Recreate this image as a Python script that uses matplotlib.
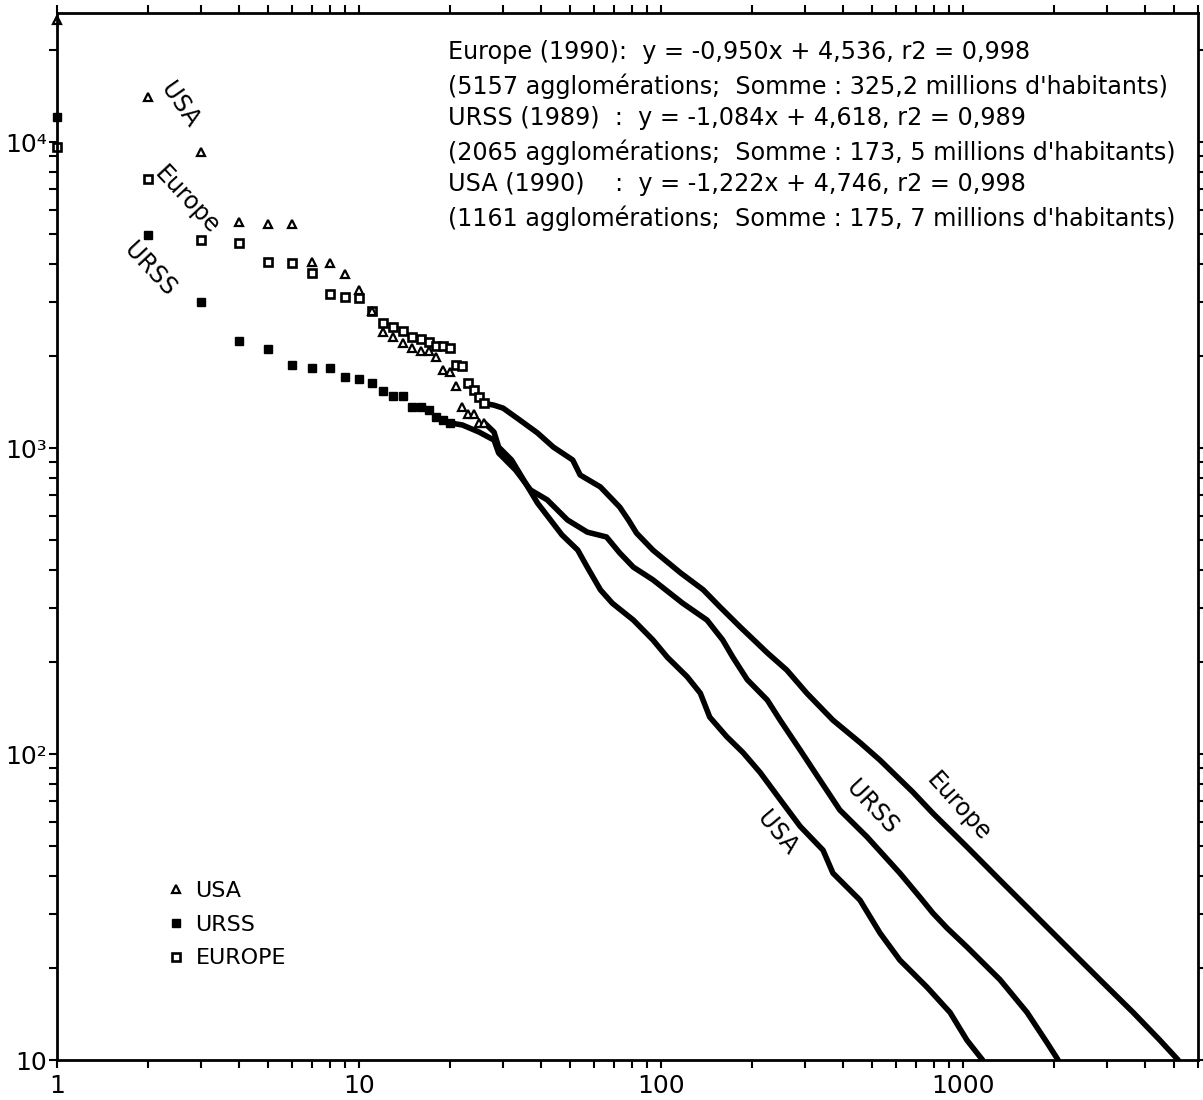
import numpy as np
import matplotlib
matplotlib.use("Agg")
import matplotlib.pyplot as plt
from matplotlib.lines import Line2D
from matplotlib.ticker import FixedLocator, LogLocator, NullFormatter

# rank-size data (population in thousands)
usa_rank_head = list(range(1, 27))
usa_pop_head = [25000, 14000, 9270, 5480, 5410, 5410, 4050, 4020, 3700, 3280,
                2800, 2390, 2300, 2200, 2120, 2070, 2070, 1980, 1800, 1770,
                1600, 1360, 1290, 1290, 1210, 1210]
usa_rank_tail = [26, 28, 29, 32, 34, 39, 47, 53, 57, 63, 69, 81, 94, 105, 122,
                 135, 145, 165, 187, 213, 248, 289, 344, 371, 456, 531, 618,
                 760, 906, 1031, 1161]
usa_pop_tail = [1210, 1127, 1007, 914, 828, 661, 520, 464, 408, 344, 311, 274,
                236, 207, 179, 158, 132, 114, 101, 87, 71, 58, 48.5, 40.8, 33.3,
                26, 21.2, 17.3, 14.3, 11.6, 10]

urss_rank_head = list(range(1, 21))
urss_pop_head = [12080, 4960, 3000, 2240, 2110, 1870, 1825, 1825, 1706, 1680,
                 1630, 1535, 1478, 1478, 1360, 1360, 1331, 1262, 1235, 1208]
urss_rank_tail = [20, 22, 25, 28, 29, 33, 37, 42, 49, 57, 66, 73, 81, 94, 118,
                  142, 160, 173, 193, 225, 248, 289, 336, 391, 481, 618, 721,
                  795, 885, 1031, 1326, 1630, 1897, 2065]
urss_pop_tail = [1208, 1189, 1127, 1061, 963, 847, 729, 677, 582, 531, 512, 454,
                 408, 371, 311, 274, 236, 207, 175, 150, 129, 103, 82.2, 65.6,
                 53.6, 40.8, 34.0, 30.2, 27.0, 23.4, 18.3, 14.3, 11.4, 10]

europe_rank_head = list(range(1, 27))
europe_pop_head = [9630, 7570, 4790, 4680, 4050, 4020, 3730, 3185, 3110, 3090,
                   2800, 2560, 2480, 2410, 2300, 2270, 2220, 2150, 2150, 2120,
                   1870, 1860, 1630, 1550, 1470, 1400]
europe_rank_tail = [26, 28, 30, 34, 39, 44, 51, 54, 63, 73, 78, 83, 94, 116, 138,
                    157, 183, 225, 261, 304, 371, 456, 531, 683, 795, 1031, 1326,
                    1706, 2210, 2840, 3660, 4490, 5157]
europe_pop_tail = [1400, 1380, 1350, 1236, 1120, 1007, 914, 816, 746, 641, 582,
                   527, 464, 391, 344, 302, 260, 214, 188, 158, 129, 109, 95.5,
                   75, 64, 49.7, 38.7, 30.2, 23.4, 18.3, 14.3, 11.6, 10]

equations = [
    "Europe (1990):  y = -0,950x + 4,536, r2 = 0,998",
    "(5157 agglomérations;  Somme : 325,2 millions d'habitants)",
    "URSS (1989)  :  y = -1,084x + 4,618, r2 = 0,989",
    "(2065 agglomérations;  Somme : 173, 5 millions d'habitants)",
    "USA (1990)    :  y = -1,222x + 4,746, r2 = 0,998",
    "(1161 agglomérations;  Somme : 175, 7 millions d'habitants)",
]

W, H = 1203, 1100
fig = plt.figure(figsize=(W / 100, H / 100), dpi=100)
ax = fig.add_axes([57 / W, 40 / H, 1141 / W, 1047 / H])
ax.set_xscale('log')
ax.set_yscale('log')
ax.set_xlim(1, 6000)
ax.set_ylim(10, 26400)

lw_band = 4.0
for rk, pp in [(usa_rank_tail, usa_pop_tail), (urss_rank_tail, urss_pop_tail),
               (europe_rank_tail, europe_pop_tail)]:
    ax.plot(rk, pp, '-', color='black', lw=lw_band,
            solid_joinstyle='round', solid_capstyle='round')

usa_style = dict(ls='none', marker='^', ms=5.5, mfc='white', mec='black', mew=1.6)
urss_style = dict(ls='none', marker='s', ms=5.5, mfc='black', mec='black', mew=1)
eur_style = dict(ls='none', marker='s', ms=6.3, mfc='white', mec='black', mew=1.9)

ax.plot(urss_rank_head, urss_pop_head, clip_on=False, **urss_style)
ax.plot(europe_rank_head, europe_pop_head, clip_on=False, **eur_style)
ax.plot(usa_rank_head, usa_pop_head, clip_on=False, **usa_style)

# axes, ticks
for s in ax.spines.values():
    s.set_linewidth(2)
ax.xaxis.set_major_locator(FixedLocator([1, 10, 100, 1000]))
ax.yaxis.set_major_locator(FixedLocator([10, 100, 1000, 10000]))
ax.xaxis.set_minor_locator(LogLocator(base=10, subs=np.arange(2, 10), numticks=20))
ax.yaxis.set_minor_locator(LogLocator(base=10, subs=np.arange(2, 10), numticks=20))
ax.xaxis.set_minor_formatter(NullFormatter())
ax.yaxis.set_minor_formatter(NullFormatter())
ax.set_xticklabels(['1', '10', '100', '1000'])
ax.set_yticklabels(['10', '10²', '10³', '10⁴'])
ax.tick_params(which='both', direction='out', length=6, width=1.5,
               top=True, right=True, labeltop=False, labelright=False)
ax.tick_params(axis='x', labelsize=18, pad=4)
ax.tick_params(axis='y', labelsize=18, pad=1)

# curve labels
lab = dict(fontsize=17, ha='center', va='center')
ax.text(2.55, 13200, 'USA', rotation=-55, **lab)
ax.text(2.69, 6460, 'Europe', rotation=-47, **lab)
ax.text(2.03, 3820, 'URSS', rotation=-47, **lab)
ax.text(242, 55, 'USA', rotation=-50, **lab)
ax.text(500, 67, 'URSS', rotation=-47, **lab)
ax.text(962, 67, 'Europe', rotation=-48, **lab)

# regression text block
line_y = [52, 86, 118, 152, 184, 218]
for txt, py in zip(equations, line_y):
    fig.text(448 / W, 1 - py / H, txt, fontsize=17.2, ha='left', va='center')

handles = [Line2D([], [], **usa_style), Line2D([], [], **urss_style),
           Line2D([], [], **eur_style)]
ax.legend(handles, ['USA', 'URSS', 'EUROPE'], loc='upper left',
          bbox_to_anchor=((160 - 57) / 1141, (1060 - 872) / 1047),
          frameon=False, fontsize=16, handlelength=0.6, handletextpad=0.6,
          labelspacing=0.62, borderaxespad=0)

fig.savefig('out.png', dpi=100)
